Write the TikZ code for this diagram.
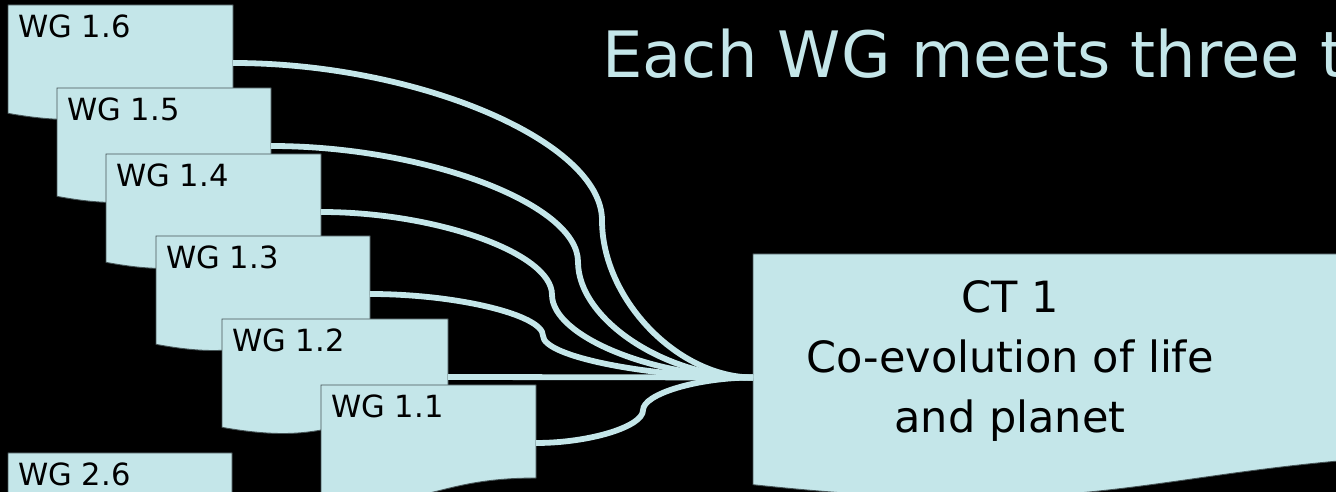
\documentclass[tikz,border=0pt]{standalone}
\usepackage{fontspec}
\setmainfont{DejaVu Sans}
\usetikzlibrary{calc}

\definecolor{paleblue}{RGB}{196,230,233}
\definecolor{edgegray}{RGB}{70,84,86}

% document shape: left, top, width, height (in px)
\newcommand{\docpath}[4]{(#1,#2) -- ({#1+#3},#2) -- ({#1+#3},{#2+0.802*#4})
  .. controls ({#1+0.5*#3},{#2+0.802*#4}) and ({#1+0.5*#3},{#2+1.107*#4}) .. (#1,{#2+0.934*#4}) -- cycle}

\tikzset{
  docshape/.style={fill=paleblue, draw=edgegray, line width=0.5pt},
  wgbox/.style={anchor=north west, inner sep=0pt, outer sep=0pt, minimum height=116*0.02cm},
  wglabel/.style={anchor=base west, inner sep=0pt, font=\fontsize{17.4}{20}\selectfont},
  cttext/.style={align=center, inner sep=0pt, font=\fontsize{24.5}{34}\selectfont},
  titletext/.style={anchor=base west, inner sep=0pt, text=paleblue, font=\fontsize{36.4}{40}\selectfont},
  link/.style={draw=paleblue, line width=3.3pt},
}

\begin{document}
\begin{tikzpicture}[x=0.02cm, y=-0.02cm]
  \useasboundingbox (0,0) rectangle (1336,492);
  \clip (0,0) rectangle (1336,492);
  \fill[black] (0,0) rectangle (1336,492);

  % title
  \node[titletext] (title) at (602,78) {Each WG meets three t};

  % working group sheets, back to front
  \foreach \n/\x/\y/\w/\txt in {26/8/453/224/WG 2.6, 16/8/5/225/WG 1.6, 15/57/88/214/WG 1.5,
      14/106/154/215/WG 1.4, 13/156/236/214/WG 1.3, 12/222/319/226/WG 1.2, 11/321/385/215/WG 1.1} {
    \filldraw[docshape] \docpath{\x}{\y}{\w}{116};
    \node[wgbox, minimum width=\w*0.02cm] (wg\n) at (\x,\y) {};
    \node[wglabel] (t\n) at ($(wg\n.north west)+(10,33)$) {\txt};
  }

  % cross-cutting theme
  \filldraw[docshape] \docpath{753}{254}{800}{247};
  \node[anchor=north west, inner sep=0pt, outer sep=0pt, minimum width=16cm, minimum height=247*0.02cm] (ct) at (753,254) {};
  \node[cttext] (ctlabel) at (1010,361) {CT 1\\Co-evolution of life\\and planet};

  % connectors
  \draw[link] (wg12.east) -- (ct.west);
  \foreach \n/\kx in {16/602, 15/578, 14/552, 13/543, 11/643} {
    \path (wg\n.east) -- (ct.west) coordinate[pos=0.5] (mid\n);
    \coordinate (k\n) at (\kx,0 |- mid\n);
    \draw[link] (wg\n.east)
      .. controls ($(wg\n.east)!0.5!(wg\n.east -| k\n)$) and ($(k\n)!0.5!(k\n |- wg\n.east)$) .. (k\n)
      .. controls ($(k\n)!0.5!(k\n |- ct.west)$) and ($(k\n |- ct.west)!0.5!(ct.west)$) .. (ct.west);
  }
\end{tikzpicture}
\end{document}
